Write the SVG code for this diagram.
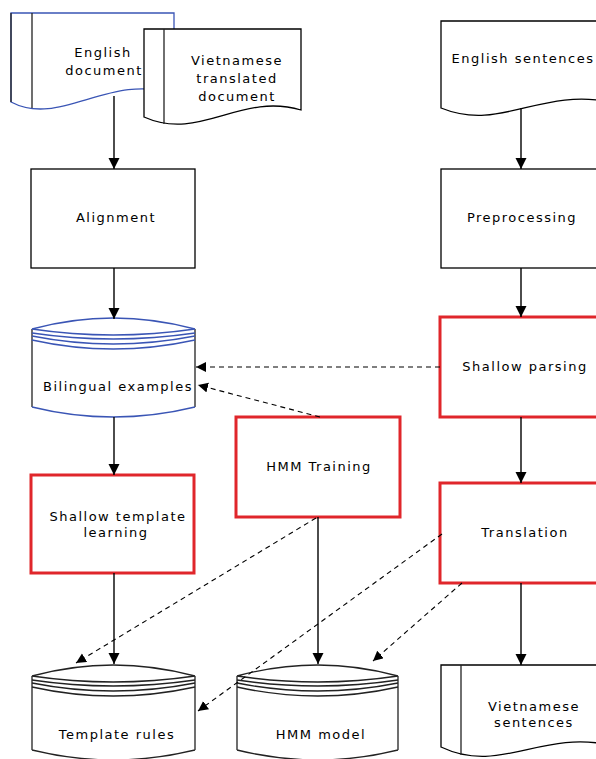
<svg xmlns="http://www.w3.org/2000/svg" width="596" height="759" viewBox="0 0 596 759">
<defs>
<style>
.doc{fill:#fff;stroke:#000;stroke-width:1.3}
.docb{fill:#fff;stroke:#3a55b5;stroke-width:1.3}
.box{fill:#fff;stroke:#000;stroke-width:1.3}
.rbox{fill:#fff;stroke:#e0262b;stroke-width:3}
.cyl{fill:#fff;stroke:none}
.cylb{fill:none;stroke:#3a55b5;stroke-width:1.3}
.side{fill:none;stroke:#222;stroke-width:1.3}
.t{font-family:"DejaVu Sans",Verdana,sans-serif;font-size:13px;fill:#000;text-anchor:middle;letter-spacing:1.5px}
.solid{fill:none;stroke:#000;stroke-width:1.4;marker-end:url(#ah)}
.dash{fill:none;stroke:#000;stroke-width:1.1;stroke-dasharray:5,4;marker-end:url(#ahs)}
</style>
<marker id="ah" markerUnits="userSpaceOnUse" markerWidth="13" markerHeight="13" refX="11" refY="5.5" orient="auto"><path d="M0,0 L11,5.5 L0,11 Z" fill="#000"/></marker>
<marker id="ahs" markerUnits="userSpaceOnUse" markerWidth="12" markerHeight="12" refX="10" refY="5" orient="auto"><path d="M0,0 L10,5 L0,10 Z" fill="#000"/></marker>
</defs>

<g id="english-document">
<path class="docb" d="M11,13 H174 V94 C110,72 60,128 11,102 Z"/>
<path class="side" d="M11,13 V102 M32,13 V108"/>
<text class="t" x="103" y="57">English</text>
<text class="t" x="104" y="75">document</text>
</g>

<g id="vietnamese-document">
<path class="doc" d="M144,29 H301 V110 C240,92 200,142 144,117 Z"/>
<path class="side" d="M164,29 V124"/>
<text class="t" x="237" y="65">Vietnamese</text>
<text class="t" x="237" y="83">translated</text>
<text class="t" x="237" y="101">document</text>
</g>

<g id="english-sentences">
<path class="doc" d="M441,21 H610 V102 C540,88 500,132 441,108 Z"/>
<text class="t" x="523" y="63">English sentences</text>
</g>

<g id="alignment">
<rect class="box" x="31" y="169" width="164" height="99"/>
<text class="t" x="116" y="222">Alignment</text>
</g>

<g id="preprocessing">
<rect class="box" x="441" y="169" width="170" height="99"/>
<text class="t" x="522" y="222">Preprocessing</text>
</g>

<g id="bilingual-examples">
<path class="cyl" d="M32,329 V407 Q113,427 195,407 V329 Z"/>
<path class="side" d="M32,329 V407 M195,329 V407"/>
<path class="cylb" d="M32,407 Q113,427 195,407"/>
<path class="cylb" d="M32,329 Q113,307 195,329 M32,329 Q113,341 195,329 M32,333 Q113,345 195,333 M32,336 Q113,352 195,336 M32,340 Q113,358 195,340"/>
<text class="t" x="118" y="391">Bilingual examples</text>
</g>

<g id="shallow-parsing">
<rect class="rbox" x="440" y="317" width="170" height="100"/>
<text class="t" x="525" y="371">Shallow parsing</text>
</g>

<g id="hmm-training">
<rect class="rbox" x="236" y="417" width="164" height="100"/>
<text class="t" x="319" y="471">HMM Training</text>
</g>

<g id="shallow-template-learning">
<rect class="rbox" x="31" y="475" width="163" height="98"/>
<text class="t" x="118" y="521">Shallow template</text>
<text class="t" x="116" y="537">learning</text>
</g>

<g id="translation">
<rect class="rbox" x="440" y="483" width="170" height="100"/>
<text class="t" x="525" y="537">Translation</text>
</g>

<g id="template-rules">
<path class="cyl" d="M32,676 V750 Q113,770 195,750 V676 Z"/>
<path class="side" d="M32,676 V750 M195,676 V750 M32,750 Q113,770 195,750"/>
<path class="side" d="M32,676 Q113,654 195,676 M32,676 Q113,688 195,676 M32,680 Q113,692 195,680 M32,683 Q113,699 195,683 M32,687 Q113,705 195,687"/>
<text class="t" x="117" y="739">Template rules</text>
</g>

<g id="hmm-model">
<path class="cyl" d="M237,676 V750 Q318,770 398,750 V676 Z"/>
<path class="side" d="M237,676 V750 M398,676 V750 M237,750 Q318,770 398,750"/>
<path class="side" d="M237,676 Q318,654 398,676 M237,676 Q318,688 398,676 M237,680 Q318,692 398,680 M237,683 Q318,699 398,683 M237,687 Q318,705 398,687"/>
<text class="t" x="321" y="739">HMM model</text>
</g>

<g id="vietnamese-sentences">
<path class="doc" d="M441,665 H610 V745 C540,730 500,775 441,747 Z"/>
<path class="side" d="M461,665 V755"/>
<text class="t" x="534" y="711">Vietnamese</text>
<text class="t" x="534" y="727">sentences</text>
</g>

<g id="connectors">
<path class="solid" d="M114,96 V169"/>
<path class="solid" d="M114,268 V319"/>
<path class="solid" d="M114,417 V475"/>
<path class="solid" d="M114,573 V664"/>
<path class="solid" d="M521,108 V169"/>
<path class="solid" d="M521,268 V317"/>
<path class="solid" d="M521,417 V483"/>
<path class="solid" d="M521,583 V665"/>
<path class="solid" d="M318,517 V664"/>
<path class="dash" d="M440,367 H196"/>
<path class="dash" d="M320,417 L198,385"/>
<path class="dash" d="M316,518 L76,663"/>
<path class="dash" d="M442,534 L198,711"/>
<path class="dash" d="M462,583 L373,661"/>
</g>
</svg>
